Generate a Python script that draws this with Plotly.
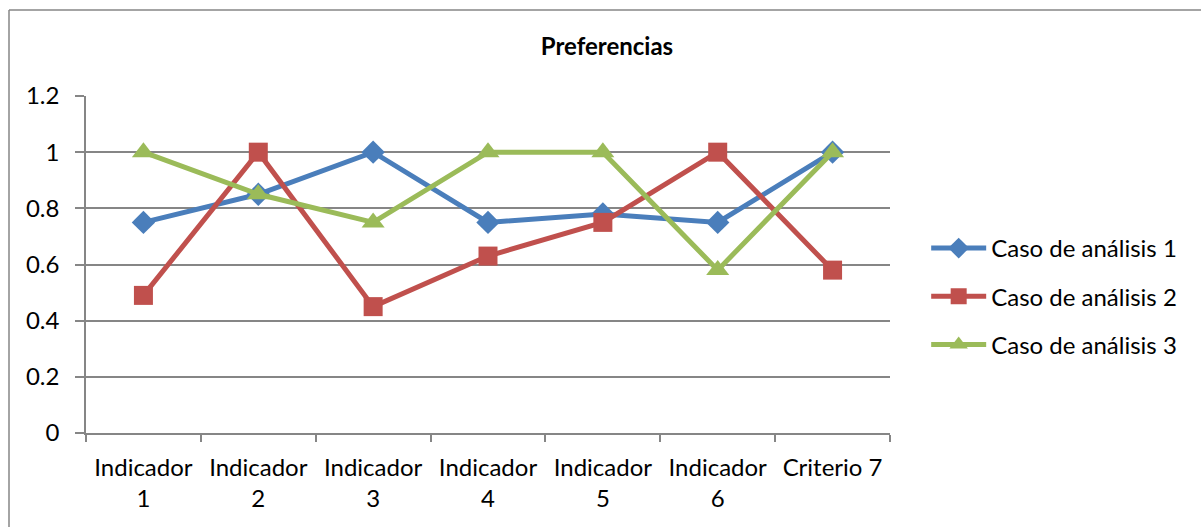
import plotly.graph_objects as go

categories = ["Indicador<br>1", "Indicador<br>2", "Indicador<br>3", "Indicador<br>4",
              "Indicador<br>5", "Indicador<br>6", "Criterio 7"]
caso1 = [0.75, 0.85, 1.0, 0.75, 0.78, 0.75, 1.0]
caso2 = [0.49, 1.0, 0.45, 0.63, 0.75, 1.0, 0.58]
caso3 = [1.0, 0.85, 0.75, 1.0, 1.0, 0.58, 1.0]
series_names = ["Caso de análisis 1", "Caso de análisis 2", "Caso de análisis 3"]
y_ticks = [0, 0.2, 0.4, 0.6, 0.8, 1.0, 1.2]
y_tick_labels = ["0", "0.2", "0.4", "0.6", "0.8", "1", "1.2"]

colors = ["#4A7EBB", "#C0504D", "#9BBB59"]
symbols = ["diamond", "square", "triangle-up"]
sizes = [18, 19, 20]
FONT = "Lato, Carlito, Calibri, sans-serif"
FS = 24

fig = go.Figure()
for i, (name, vals) in enumerate(zip(series_names, [caso1, caso2, caso3])):
    fig.add_trace(go.Scatter(
        x=categories, y=vals, name=name, mode="lines+markers",
        line=dict(color=colors[i], width=5),
        marker=dict(symbol=symbols[i], size=sizes[i], color=colors[i]),
        legendgroup=f"g{i}",
    ))

L, R, T, B = 86, 311, 96, 94
W, H = 1201, 527
pw, ph = W - L - R, H - T - B
bx = (9 - L) / pw
by = 1 + (T - 10) / ph
fig.add_shape(type="line", xref="paper", yref="paper", x0=bx, x1=(W - L) / pw + 0.05,
              y0=by, y1=by, line=dict(color="#868686", width=1.5))
fig.add_shape(type="line", xref="paper", yref="paper", x0=bx, x1=bx,
              y0=by, y1=-B / ph - 0.05, line=dict(color="#868686", width=1.5))

fig.update_layout(
    width=W, height=H,
    margin=dict(l=L, r=R, t=T, b=B),
    paper_bgcolor="white", plot_bgcolor="white",
    font=dict(family=FONT, size=FS, color="#000000"),
    title=dict(text="<b>Preferencias</b>", x=607 / W, xref="container", xanchor="center",
               y=1 - 47 / H, yref="container", yanchor="middle",
               font=dict(family=FONT, size=24, color="#000000")),
    showlegend=True,
    legend=dict(x=1.045, xanchor="left", y=0.405, yanchor="middle",
                font=dict(family=FONT, size=FS), itemwidth=55,
                tracegroupgap=14, bgcolor="rgba(0,0,0,0)"),
    xaxis=dict(type="category", showgrid=False, showline=True, linecolor="#868686",
               linewidth=1.5, ticks="outside", tickson="boundaries", ticklen=7,
               tickcolor="#868686", tickwidth=1.5, tickfont=dict(family=FONT, size=FS),
               ticklabelstandoff=12, range=[-0.5, 6.5]),
    yaxis=dict(range=[0, 1.2], tickvals=y_ticks, ticktext=y_tick_labels,
               showgrid=True, gridcolor="#868686", gridwidth=1.5,
               showline=True, linecolor="#868686", linewidth=1.5,
               ticks="outside", ticklen=9, tickcolor="#868686", tickwidth=1.5,
               tickfont=dict(family=FONT, size=FS), ticklabelstandoff=11, zeroline=False),
)

fig.write_html("out.html", post_script="document.body.style.margin='0';",
               config={"displayModeBar": False})
